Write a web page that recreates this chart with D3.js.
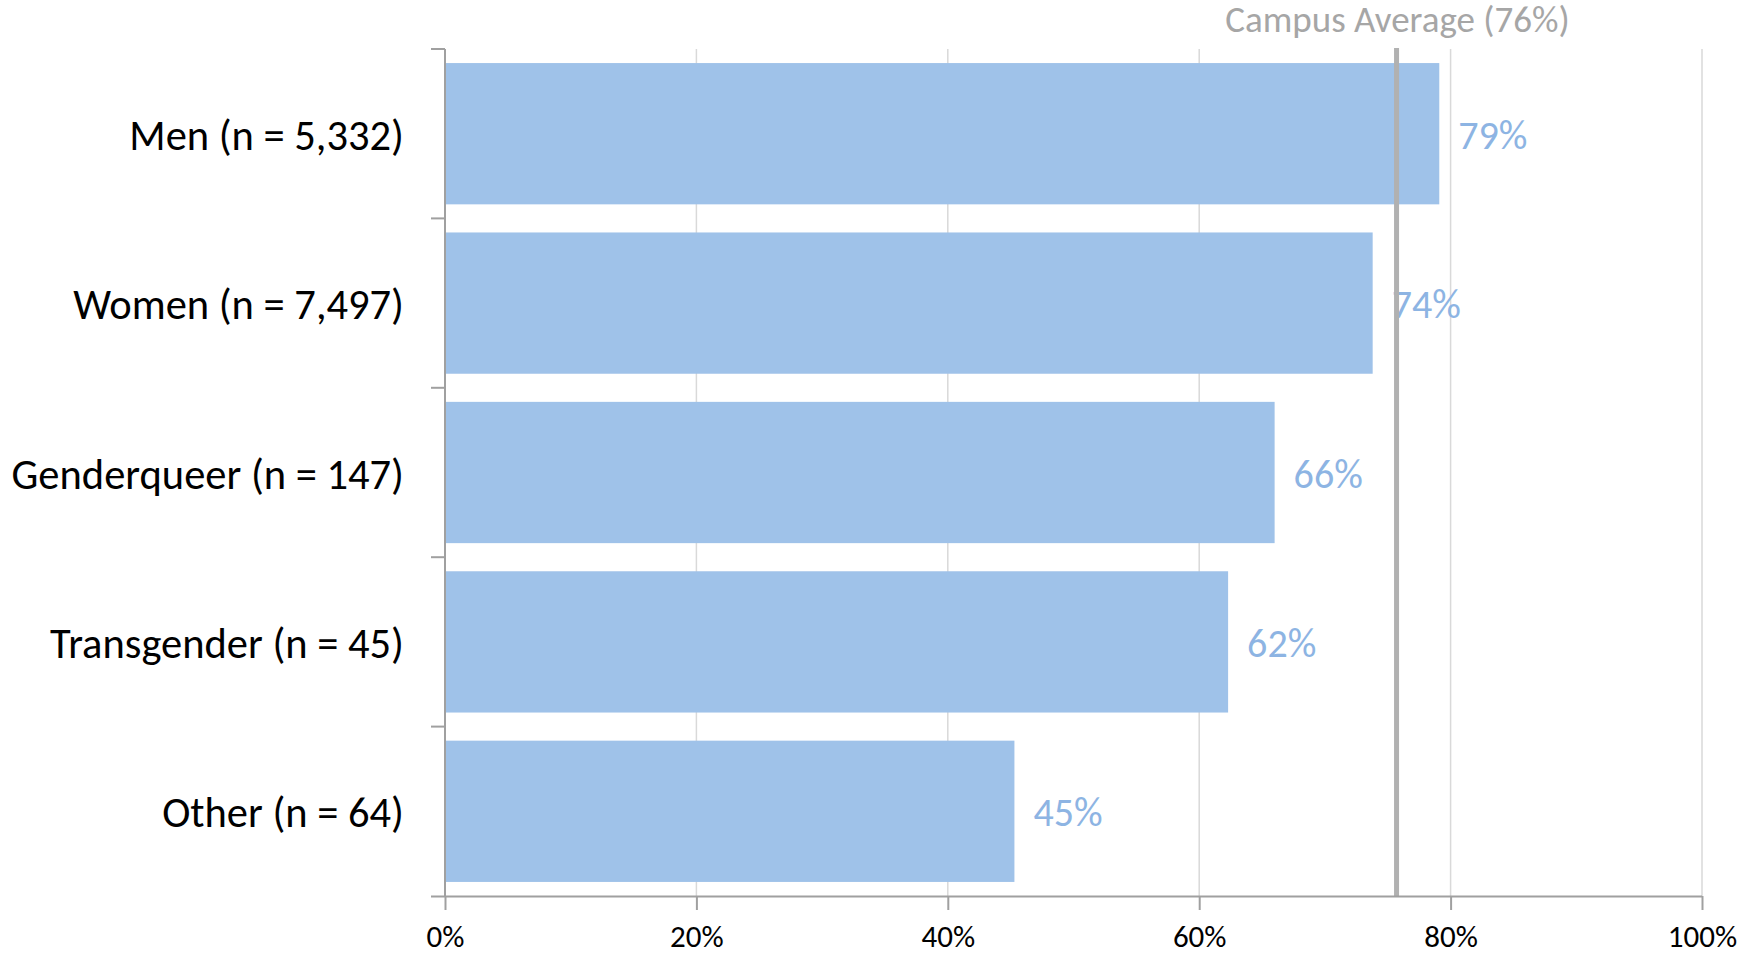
<!DOCTYPE html>
<html>
<head>
<meta charset="utf-8">
<script src="https://cdn.jsdelivr.net/npm/d3@7"></script>
<style>
  html, body { margin: 0; padding: 0; background: #ffffff; }
  svg { display: block; font-family: Carlito, Calibri, Lato, "Open Sans", sans-serif; }
</style>
</head>
<body>
<svg id="chart" width="1760" height="953"></svg>
<script>
// Share of respondents, by gender identity
const categories = ["Men (n = 5,332)", "Women (n = 7,497)", "Genderqueer (n = 147)", "Transgender (n = 45)", "Other (n = 64)"];
const values = [0.791, 0.738, 0.660, 0.623, 0.453];
const campusAverage = 0.757;
const campusLabel = "Campus Average (76%)";
const xTicks = [0, 0.2, 0.4, 0.6, 0.8, 1.0];

const svg = d3.select("#chart");
const margin = { left: 445, right: 58, top: 49, bottom: 57 };
const W = 1760, H = 953;

const x = d3.scaleLinear().domain([0, 1]).range([margin.left, W - margin.right]);
const y = d3.scaleBand().domain(categories).range([margin.top, H - margin.bottom]).paddingInner(0.166).paddingOuter(0.083);

const pct = d3.format(".0%");

// vertical gridlines
svg.append("g")
  .selectAll("line")
  .data(xTicks.slice(1))
  .join("line")
  .attr("x1", d => x(d)).attr("x2", d => x(d))
  .attr("y1", margin.top).attr("y2", H - margin.bottom)
  .attr("stroke", "#d9d9d9").attr("stroke-width", 1.5);

// bars
svg.append("g")
  .selectAll("rect")
  .data(categories)
  .join("rect")
  .attr("x", x(0))
  .attr("y", d => y(d))
  .attr("width", (d, i) => x(values[i]) - x(0))
  .attr("height", y.bandwidth())
  .attr("fill", "#9fc2e9");

// value labels
svg.append("g")
  .selectAll("text")
  .data(categories)
  .join("text")
  .attr("x", (d, i) => x(values[i]) + 19)
  .attr("y", d => y(d) + y.bandwidth() / 2 + 15)
  .attr("fill", "#8db4e3")
  .attr("font-size", 40)
  .text((d, i) => pct(values[i]));

// campus average reference line
svg.append("line")
  .attr("x1", x(campusAverage)).attr("x2", x(campusAverage))
  .attr("y1", margin.top - 1).attr("y2", H - margin.bottom)
  .attr("stroke", "#b1b1b1").attr("stroke-width", 5);

svg.append("text")
  .attr("x", x(campusAverage) + 1)
  .attr("y", 32)
  .attr("text-anchor", "middle")
  .attr("fill", "#a6a6a6")
  .attr("font-size", 37)
  .text(campusLabel);

// x axis
const xAxis = svg.append("g")
  .attr("transform", `translate(0,${H - margin.bottom})`)
  .call(d3.axisBottom(x).tickValues(xTicks).tickFormat(pct).tickSize(14).tickSizeOuter(0));
xAxis.attr("font-family", null).attr("font-size", null);
xAxis.select(".domain").attr("stroke", "#a0a0a0").attr("stroke-width", 2)
  .attr("d", `M${x(0) - 14},0.5H${x(1)}`);
xAxis.selectAll(".tick line").attr("stroke", "#a0a0a0").attr("stroke-width", 2);
xAxis.selectAll(".tick text")
  .attr("fill", "#000").attr("font-size", 31)
  .attr("y", 51).attr("dy", null);

// y axis with tick marks at band boundaries
const yAxis = svg.append("g").attr("transform", `translate(${x(0)},0)`);
yAxis.append("line")
  .attr("x1", 0).attr("x2", 0)
  .attr("y1", margin.top).attr("y2", H - margin.bottom)
  .attr("stroke", "#a0a0a0").attr("stroke-width", 2);
const step = y.step();
const boundaries = d3.range(categories.length).map(i => y(categories[i]) - (step - y.bandwidth()) / 2);
yAxis.selectAll("line.tk")
  .data(boundaries)
  .join("line").attr("class", "tk")
  .attr("x1", -14).attr("x2", 0)
  .attr("y1", d => d).attr("y2", d => d)
  .attr("stroke", "#a0a0a0").attr("stroke-width", 2);

// category labels
svg.append("g")
  .selectAll("text")
  .data(categories)
  .join("text")
  .attr("x", 404)
  .attr("y", d => y(d) + y.bandwidth() / 2 + 16)
  .attr("text-anchor", "end")
  .attr("fill", "#000")
  .attr("font-size", 42.5)
  .text(d => d);
</script>
</body>
</html>
